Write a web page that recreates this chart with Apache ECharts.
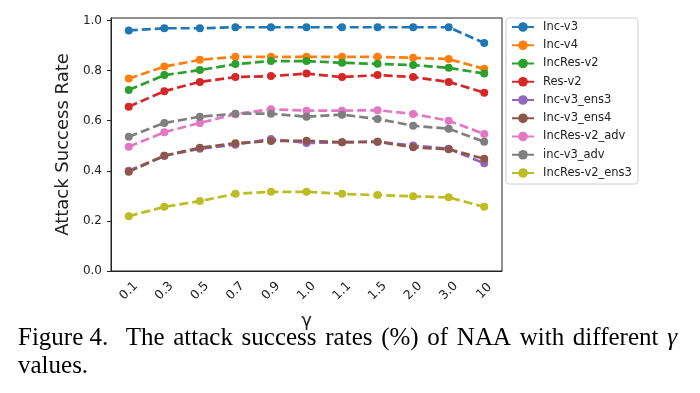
<!DOCTYPE html>
<html><head><meta charset="utf-8">
<script src="https://cdn.jsdelivr.net/npm/echarts@6/dist/echarts.min.js"></script>
<style>html,body{margin:0;padding:0;background:#fff}#c{width:700px;height:393px}</style>
</head><body><div id="c"></div>
<script>
const categories = ['0.1','0.3','0.5','0.7','0.9','1.0','1.1','1.5','2.0','3.0','10'];
const yTicks = [0.0, 0.2, 0.4, 0.6, 0.8, 1.0];
const incV3       = [0.960, 0.969, 0.969, 0.973, 0.973, 0.973, 0.973, 0.973, 0.973, 0.973, 0.910];
const incV4       = [0.768, 0.816, 0.843, 0.855, 0.855, 0.855, 0.855, 0.855, 0.851, 0.846, 0.807];
const incResV2    = [0.723, 0.782, 0.802, 0.826, 0.838, 0.838, 0.831, 0.827, 0.822, 0.811, 0.788];
const resV2       = [0.656, 0.718, 0.755, 0.774, 0.778, 0.788, 0.774, 0.782, 0.774, 0.755, 0.712];
const incV3Ens3   = [0.400, 0.460, 0.488, 0.504, 0.527, 0.511, 0.514, 0.516, 0.501, 0.488, 0.430];
const incV3Ens4   = [0.396, 0.460, 0.492, 0.510, 0.519, 0.520, 0.514, 0.516, 0.494, 0.486, 0.448];
const incResV2Adv = [0.496, 0.554, 0.591, 0.626, 0.646, 0.640, 0.640, 0.642, 0.627, 0.600, 0.547];
const incV3Adv    = [0.536, 0.591, 0.616, 0.628, 0.628, 0.616, 0.624, 0.607, 0.580, 0.568, 0.516];
const incResV2Ens3= [0.219, 0.256, 0.279, 0.308, 0.316, 0.316, 0.308, 0.303, 0.298, 0.294, 0.256];
const seriesNames = ['Inc-v3','Inc-v4','IncRes-v2','Res-v2','Inc-v3_ens3','Inc-v3_ens4','IncRes-v2_adv','inc-v3_adv','IncRes-v2_ens3'];
const seriesData = [incV3, incV4, incResV2, resV2, incV3Ens3, incV3Ens4, incResV2Adv, incV3Adv, incResV2Ens3];
const colors = ['#1f77b4','#ff7f0e','#2ca02c','#d62728','#9467bd','#8c564b','#e377c2','#7f7f7f','#bcbd22'];
const captionWords = ['Figure 4.', 'The', 'attack', 'success', 'rates', '(%)', 'of', 'NAA', 'with', 'different', 'γ'];
const captionLine2 = 'values.';

// justified caption layout (first line spans the text block width; wider gap after the figure number)
const capFont = '25px "Liberation Serif"';
const capLeft = 18, capRight = 677;
const mctx = document.createElement('canvas').getContext('2d');
const wordFont = w => (w === 'γ' ? 'italic ' : '') + capFont;
const widths = captionWords.map(w => { mctx.font = wordFont(w); return mctx.measureText(w).width; });
const total = widths.reduce((a,b)=>a+b,0);
const gapWeights = captionWords.slice(1).map((w,i) => i === 0 ? 2 : 1);
const unitGap = (capRight - capLeft - total) / gapWeights.reduce((a,b)=>a+b,0);
const captionGraphics = [];
let cx = capLeft;
captionWords.forEach((w,i) => {
  captionGraphics.push({type:'text', left:cx, top:325.5, style:{text:w, font:wordFont(w), fill:'#000'}});
  if (i < gapWeights.length) cx += widths[i] + unitGap * gapWeights[i];
});
captionGraphics.push({type:'text', left:capLeft, top:354, style:{text:captionLine2, font:capFont, fill:'#000'}});

const chart = echarts.init(document.getElementById('c'), null, {renderer:'canvas'});
const font = 'DejaVu Sans';
chart.setOption({
  animation: false,
  color: colors,
  grid: {left:111, right:198, top:18, bottom:122, show:true, borderColor:'#222', borderWidth:1, backgroundColor:'transparent'},
  legend: {
    orient:'vertical', left:506, top:18, padding:[3,6,5,5],
    borderColor:'#d0d0d0', borderWidth:1, borderRadius:3,
    itemWidth:22, itemHeight:12, itemGap:6.25,
    textStyle:{fontFamily:font, fontSize:11.5, color:'#222', padding:[0,0,0,4]},
    data: seriesNames
  },
  xAxis: {
    type:'category', data:categories, boundaryGap:true,
    name:'γ', nameLocation:'middle', nameGap:41,
    nameTextStyle:{fontFamily:font, fontSize:18, color:'#222'},
    axisLine:{lineStyle:{color:'#222'}},
    axisTick:{alignWithLabel:true, length:4, lineStyle:{color:'#222'}},
    axisLabel:{rotate:45, align:'center', verticalAlign:'middle', margin:20, fontFamily:font, fontSize:12.5, color:'#222', interval:0},
    splitLine:{show:false}
  },
  yAxis: {
    type:'value', min:0, max:1.01, interval:0.2,
    name:'Attack Success Rate', nameLocation:'middle', nameGap:31,
    nameTextStyle:{fontFamily:font, fontSize:18, color:'#222'},
    axisLine:{show:true, lineStyle:{color:'#222'}},
    axisTick:{show:true, length:4, lineStyle:{color:'#222'}},
    axisLabel:{margin:9, fontFamily:font, fontSize:12, color:'#222', showMaxLabel:false,
      formatter: v => yTicks.some(t => Math.abs(t - v) < 1e-6) ? v.toFixed(1) : ''},
    splitLine:{show:false}
  },
  series: seriesNames.map((n,i) => ({
    name:n, type:'line', data:seriesData[i],
    symbol:'circle', symbolSize:8,
    lineStyle:{width:2.7, type:[9,4]},
    itemStyle:{color:colors[i]}
  })),
  graphic: captionGraphics
});
</script></body></html>
